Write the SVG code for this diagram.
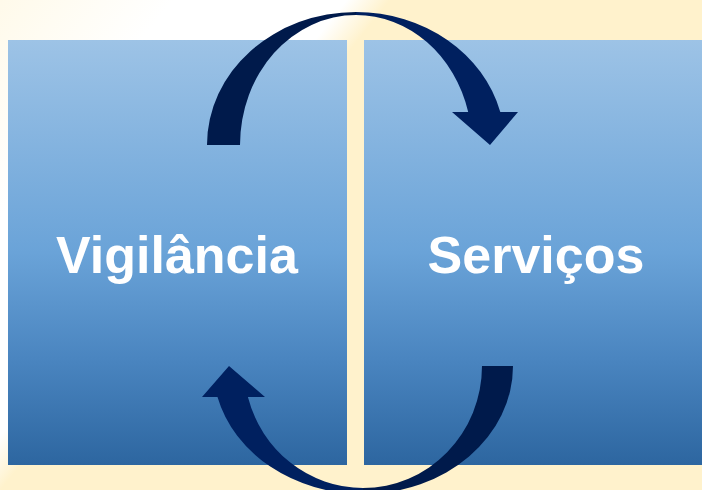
<svg xmlns="http://www.w3.org/2000/svg" width="702" height="490" viewBox="0 0 702 490">
  <defs>
    <linearGradient id="bg" gradientUnits="userSpaceOnUse" x1="0" y1="0" x2="664" y2="528">
      <stop offset="0" stop-color="#FFFAEA"/>
      <stop offset="0.16" stop-color="#FFFFFF"/>
      <stop offset="0.32" stop-color="#FFFFFF"/>
      <stop offset="0.36" stop-color="#FFF2CC"/>
      <stop offset="1" stop-color="#FFF2CC"/>
    </linearGradient>
    <linearGradient id="box" x1="0" y1="0" x2="0" y2="1">
      <stop offset="0" stop-color="#9DC3E6"/>
      <stop offset="0.5" stop-color="#6AA3D8"/>
      <stop offset="0.75" stop-color="#4A85C0"/>
      <stop offset="1" stop-color="#2D66A0"/>
    </linearGradient>
    <style>
      .box { fill: url(#box); }
      .lbl { font-family: "Liberation Sans", Arial, sans-serif; font-weight: bold; font-size: 52px; fill: #FFFFFF; text-anchor: middle; }
      .dark { fill: #001A4B; }
      .mid { fill: #00205F; }
    </style>
  </defs>
  <rect x="0" y="0" width="702" height="490" fill="url(#bg)"/>
  <g id="vigilancia">
    <rect class="box" x="8" y="40" width="339" height="425"/>
    <text class="lbl" x="177" y="273">Vigilância</text>
  </g>
  <g id="servicos">
    <rect class="box" x="364" y="40" width="338" height="425"/>
    <text class="lbl" x="536" y="273">Serviços</text>
  </g>
  <g id="connectors">
    <path class="dark" d="M207 145 A149 133 0 0 1 356 12 L356 15 A116 130 0 0 0 240 145 Z"/>
    <path class="mid" d="M356 12 A149 133 0 0 1 500.3 112 L518 112 L490 145 L452 112 L468.2 112 A116 130 0 0 0 356 15 Z"/>
    <path class="dark" d="M513 366 A150 128 0 0 1 363 494 L363 488 A119 122 0 0 0 482 366 Z"/>
    <path class="mid" d="M363 494 A150 128 0 0 1 217.5 397 L202 397 L229 366 L265 397 L247.9 397 A119 122 0 0 0 363 488 Z"/>
  </g>
</svg>
